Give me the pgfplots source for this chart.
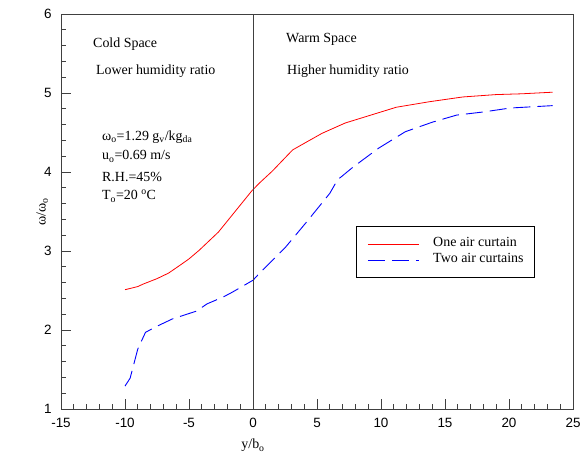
\documentclass[border=0pt]{standalone}
\usepackage{fontspec}
\setmainfont{Liberation Serif}
\newfontfamily\arial{Liberation Sans}
\usepackage{pgfplots}
\pgfplotsset{compat=1.18}
\pgfplotstableread{
x y
-10.0 2.51
-9.0 2.55
-8.6 2.58
-7.5 2.65
-6.6 2.72
-5.7 2.82
-5.0 2.90
-4.2 3.01
-2.7 3.24
-1.2 3.54
-0.1 3.76
0.5 3.86
1.5 4.01
3.1 4.28
4.3 4.39
5.4 4.49
7.2 4.62
9.0 4.71
11.2 4.82
13.8 4.89
16.4 4.95
19.0 4.98
21.0 4.99
23.4 5.01
}\onecurtain
\pgfplotstableread{
x y
-10.0 1.29
-9.6 1.39
-9.0 1.76
-8.4 1.97
-7.6 2.04
-6.3 2.14
-4.4 2.24
-3.6 2.33
-2.3 2.42
-1.6 2.48
0.0 2.63
0.4 2.70
2.5 3.04
4.2 3.37
6.0 3.73
6.6 3.90
7.8 4.06
9.8 4.30
11.9 4.51
14.0 4.63
15.9 4.72
18.0 4.76
20.1 4.81
23.4 4.84
}\twocurtains
\begin{document}
\begin{tikzpicture}
\begin{axis}[
  scale only axis,
  width=512bp, height=395bp,
  xmin=-15, xmax=25, ymin=1, ymax=6,
  axis line style={black!75, line width=0.9pt},
  tick pos=left,
  tick align=inside,
  major tick length=10bp, minor tick length=5bp,
  every tick/.style={black!75, line width=0.8pt},
  xtick={-15,-10,...,25},
  xticklabels={-15,-10,-5,0,5,10,15,20,25},
  minor x tick num=4,
  ytick={1,2,3,4,5,6},
  yticklabels={1,2,3,4,5,6},
  minor y tick num=4,
  tick label style={font=\arial\fontsize{13.5}{15}\selectfont},
  xticklabel style={yshift=-6bp},
  yticklabel style={xshift=-6bp},
  xlabel={y/b\textsubscript{o}},
  ylabel={ω/ω\textsubscript{o}},
  label style={font=\fontsize{14}{16}\selectfont},
  x label style={at={(axis description cs:0.375,-0.101)}, anchor=base},
  y label style={at={(axis description cs:-0.03,0.5)}, anchor=base},
  legend style={at={(rel axis cs:0.576,0.463)}, anchor=north west,
    draw=black, line width=0.8pt, font=\fontsize{14}{16}\selectfont,
    inner xsep=11bp, inner ysep=12.5bp, row sep=6bp,
    nodes={inner sep=0bp, text height=0.75em, text depth=0.25em},
    /tikz/every odd column/.append style={column sep=14bp}},
  legend cell align=left,
  legend image code/.code={\draw[#1] (0bp,0bp) -- (51bp,0bp);},
  clip=false,
]
\addplot[red, line width=0.8pt, no marks] table {\onecurtain};
\addlegendentry{One air curtain}
\addplot[blue, line width=0.9pt, no marks, dash pattern=on 17bp off 7bp] table {\twocurtains};
\addlegendentry{Two air curtains}
\draw[black!75, line width=1pt] (axis cs:0,1) -- (axis cs:0,6);
\begin{scope}[every node/.style={font=\fontsize{14}{16}\selectfont, inner sep=0pt, anchor=base west}]
\node at (axis cs:-12.5,5.582) {Cold Space};
\node at (axis cs:-12.27,5.228) {Lower humidity ratio};
\node at (axis cs:2.58,5.633) {Warm Space};
\node at (axis cs:2.66,5.228) {Higher humidity ratio};
\node at (axis cs:-11.8,4.405) {ω\textsubscript{o}=1.29 g\textsubscript{v}/kg\textsubscript{da}};
\node at (axis cs:-11.8,4.152) {u\textsubscript{o}=0.69 m/s};
\node at (axis cs:-11.8,3.886) {R.H.=45\%};
\node at (axis cs:-11.8,3.646) {T\textsubscript{o}=20 \textsuperscript{o}C};
\end{scope}
\end{axis}
\pgfresetboundingbox
\useasboundingbox (-61bp,-59bp) rectangle (520bp,409bp);
\end{tikzpicture}
\end{document}
